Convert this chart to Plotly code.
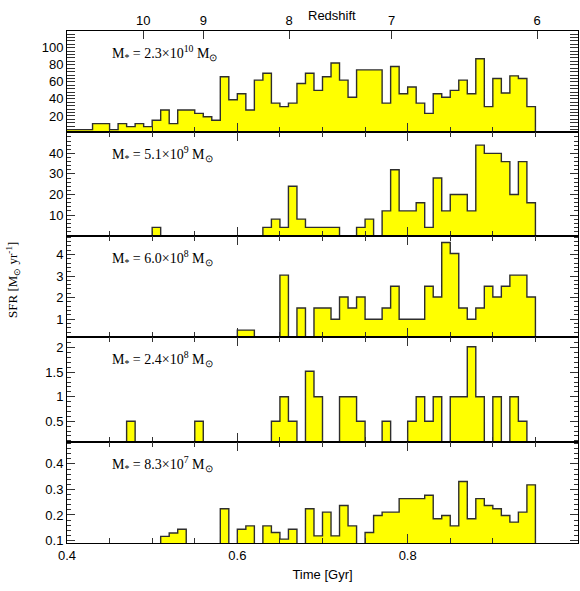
import plotly.graph_objects as go

# ---- data -------------------------------------------------------------
bin_edges = [0.40, 0.41, 0.42, 0.43, 0.44, 0.45, 0.46, 0.47, 0.48, 0.49,
             0.50, 0.51, 0.52, 0.53, 0.54, 0.55, 0.56, 0.57, 0.58, 0.59,
             0.60, 0.61, 0.62, 0.63, 0.64, 0.65, 0.66, 0.67, 0.68, 0.69,
             0.70, 0.71, 0.72, 0.73, 0.74, 0.75, 0.76, 0.77, 0.78, 0.79,
             0.80, 0.81, 0.82, 0.83, 0.84, 0.85, 0.86, 0.87, 0.88, 0.89,
             0.90, 0.91, 0.92, 0.93, 0.94, 0.95]

sfr_2p3e10 = [4, 4, 4, 11, 11, 4, 11, 7.5, 11, 7.5,
              15, 27, 11, 27, 27, 23, 19, 15, 66, 39,
              46, 27, 62, 70, 35, 31, 35, 58, 70, 50,
              66, 82, 62, 42, 74, 74, 74, 35, 78, 46,
              54, 35, 23, 46, 42, 50, 62, 46, 87, 31,
              64, 47, 67, 64, 31]

sfr_5p1e9 = [0, 0, 0, 0, 0, 0, 0, 0, 0, 0,
             4, 0, 0, 0, 0, 0, 0, 0, 0, 0,
             0, 0, 0, 4, 8, 4, 24, 8, 4, 4,
             4, 4, 0, 0, 4, 8, 0, 12, 32, 12,
             12, 16, 4, 28, 12, 20, 20, 12, 44, 40,
             40, 36, 20, 36, 16]

sfr_6p0e8 = [0, 0, 0, 0, 0, 0, 0, 0, 0, 0,
             0, 0, 0, 0, 0, 0, 0, 0, 0, 0,
             0.5, 0.5, 0, 0, 0, 3.04, 0, 1.52, 0, 1.52,
             1.52, 1.0, 2.03, 1.52, 2.03, 1.0, 1.0, 1.52, 2.53, 1.0,
             1.0, 1.0, 2.53, 2.03, 4.55, 4.04, 1.52, 1.0, 1.52, 2.53,
             2.03, 2.53, 3.04, 3.04, 2.03]

sfr_2p4e8 = [0, 0, 0, 0, 0, 0, 0, 0.5, 0, 0,
             0, 0, 0, 0, 0, 0.5, 0, 0, 0, 0,
             0, 0, 0, 0, 0.5, 1.0, 0.5, 0, 1.52, 1.0,
             0, 0, 1.0, 1.0, 0.5, 0, 0, 0.5, 0, 0,
             0.5, 1.0, 0.5, 1.0, 0, 1.0, 1.0, 2.02, 1.0, 0,
             1.0, 0, 1.0, 0.5, 0]

sfr_8p3e7 = [0, 0, 0, 0, 0, 0, 0, 0, 0, 0,
             0, 0.116, 0.129, 0.144, 0, 0, 0, 0, 0.224, 0,
             0.144, 0.157, 0, 0.157, 0.131, 0.105, 0.144, 0, 0.224, 0.118,
             0.211, 0.118, 0.237, 0.157, 0, 0.131, 0.198, 0.211, 0.211, 0.264,
             0.264, 0.264, 0.277, 0.185, 0.198, 0.157, 0.331, 0.185, 0.264, 0.237,
             0.224, 0.198, 0.172, 0.211, 0.318]

mass_labels = ["2.3×10<sup>10</sup>", "5.1×10<sup>9</sup>", "6.0×10<sup>8</sup>",
               "2.4×10<sup>8</sup>", "8.3×10<sup>7</sup>"]

y_ranges = [[1.2, 119.6], [-0.2, 50.4], [0.18, 4.85], [0.077, 2.22], [0.09, 0.486]]
y_tickvals = [[20, 40, 60, 80, 100], [10, 20, 30, 40], [1, 2, 3, 4],
              [0.5, 1, 1.5, 2], [0.1, 0.2, 0.3, 0.4]]
y_minor = [4, 2, 0.2, 0.1, 0.02]

redshift_labels = ["10", "9", "8", "7", "6"]
redshift_times = [0.4896, 0.560, 0.6607, 0.781, 0.952]

# ---- layout geometry ---------------------------------------------------
W, H = 580, 591
ML, MR, MT, MB = 67, 2, 31, 48
plot_h = H - MT - MB
bounds_px = [31, 132, 236, 337, 442, 543]
def py(px):
    return (H - MB - px) / plot_h
domains = [[py(bounds_px[i + 1]), py(bounds_px[i])] for i in range(5)]

series = [sfr_2p3e10, sfr_5p1e9, sfr_6p0e8, sfr_2p4e8, sfr_8p3e7]

fig = go.Figure()
tick_font = dict(family="Liberation Sans, Arial, sans-serif", size=13, color="black")
serif = "Liberation Serif, Times New Roman, serif"

for i, vals in enumerate(series):
    k = "" if i == 0 else str(i + 1)
    fig.add_trace(go.Scatter(
        x=bin_edges, y=list(vals) + [0],
        mode="lines", line=dict(shape="hv", color="#2e2e2e", width=1.4),
        fill="tozeroy", fillcolor="#ffff00",
        xaxis="x" + k, yaxis="y" + k, showlegend=False, hoverinfo="skip"))

    fig.layout["xaxis" + k] = dict(
        domain=[0, 1], anchor="y" + k, range=[0.4, 1.0],
        showline=True, linecolor="black", linewidth=1.1,
        mirror=(False if i == 0 else "allticks"),
        ticks="inside", ticklen=9, tickwidth=1.2, tickcolor="#333",
        dtick=0.2, tick0=0.4,
        minor=dict(dtick=0.05, tick0=0.4, ticks="inside", ticklen=5, tickcolor="#333", tickwidth=1),
        showticklabels=(i == 4), tickfont=tick_font,
        showgrid=False, zeroline=False,
        title=dict(text="Time [Gyr]", font=tick_font, standoff=8) if i == 4 else None)

    fig.layout["yaxis" + k] = dict(
        domain=domains[i], anchor="x" + k, range=y_ranges[i],
        showline=True, linecolor="black", linewidth=1, mirror="allticks",
        ticks="inside", ticklen=8, tickwidth=1, tickcolor="#333",
        tickvals=y_tickvals[i], tickfont=tick_font,
        minor=dict(dtick=y_minor[i], ticks="inside", ticklen=4, tickcolor="#333", tickwidth=1),
        showgrid=False, zeroline=False)

    top_px = bounds_px[i] + 22
    fig.add_annotation(
        xref="paper", yref="paper", x=(110 - ML) / (W - ML - MR), y=py(top_px),
        xanchor="left", yanchor="middle", showarrow=False,
        text="M<sub>*</sub>\u00a0=\u00a0" + mass_labels[i] + "\u00a0M<sub>⊙</sub>",
        font=dict(family=serif, size=14, color="black"))

# top redshift axis
fig.layout["xaxis6"] = dict(
    overlaying="x", anchor="y", side="top", range=[0.4, 1.0],
    tickvals=redshift_times, ticktext=redshift_labels,
    ticks="inside", ticklen=8, tickcolor="#333", tickwidth=1.2,
    showline=True, linecolor="black", linewidth=1,
    tickfont=tick_font, showgrid=False, zeroline=False)
fig.add_trace(go.Scatter(x=[0.4], y=[None], xaxis="x6", yaxis="y",
                         showlegend=False, hoverinfo="skip"))

fig.add_annotation(xref="paper", yref="paper", x=(332 - ML) / (W - ML - MR), y=py(15),
                   text="Redshift", showarrow=False, font=tick_font,
                   xanchor="center", yanchor="middle")

fig.add_annotation(xref="paper", yref="paper", x=(13 - ML) / (W - ML - MR), y=py(280),
                   text="SFR [M<sub>⊙</sub> yr<sup>-1</sup>]", textangle=-90, showarrow=False,
                   font=dict(family=serif, size=13, color="black"),
                   xanchor="center", yanchor="middle")

fig.update_layout(width=W, height=H, margin=dict(l=ML, r=MR, t=MT, b=MB),
                  paper_bgcolor="white", plot_bgcolor="white")

fig.write_html("out.html")
